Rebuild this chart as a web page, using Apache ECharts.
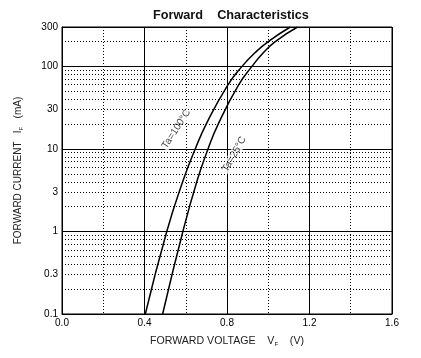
<!DOCTYPE html>
<html>
<head>
<meta charset="utf-8">
<script src="https://cdn.jsdelivr.net/npm/echarts@6/dist/echarts.min.js"></script>
<style>html,body{margin:0;padding:0;background:#fff;}#c{width:421px;height:358px;}</style>
</head>
<body>
<div id="c"></div>
<script>
// Forward voltage (V) vs forward current (mA)
const vf100 = [0.404, 0.508, 0.588, 0.646, 0.701, 0.803, 0.873, 0.937, 1.000, 1.107];
const if100 = [0.1, 1, 4.2, 10, 20.4, 59, 100, 147, 200, 300];
const vf25 = [0.488, 0.586, 0.656, 0.708, 0.759, 0.855, 0.921, 0.977, 1.034, 1.142];
const if25 = [0.1, 1, 4.2, 10, 20.4, 59, 100, 147, 200, 300];
const yLabelValues = [0.1, 0.3, 1, 3, 10, 30, 100, 300];
const yMinorGrid = [0.2,0.3,0.4,0.5,0.6,0.7,0.8,0.9, 2,3,4,5,6,7,8,9, 20,30,40,50,60,70,80,90, 200];
const xTicks = ['0.0','0.4','0.8','1.2','1.6'];
const curveLabels = [
  {name: 'Ta=100°C', v: 0.554, i: 17.4, rot: 57},
  {name: 'Ta=25°C', v: 0.835, i: 8.6, rot: 61}
];

const chart = echarts.init(document.getElementById('c'), null, {renderer: 'canvas'});
const font = 'Liberation Sans, Arial, sans-serif';
const dotted = {color: '#000', width: 1, type: [1, 2]};

chart.setOption({
  animation: false,
  backgroundColor: '#fff',
  title: {
    text: 'Forward    Characteristics',
    left: 148, top: 4,
    textStyle: {fontFamily: font, fontSize: 12.7, fontWeight: 'bold', color: '#111'}
  },
  grid: {left: 62, right: 29, top: 27, bottom: 44, show: true, borderColor: '#000', borderWidth: 1, backgroundColor: 'transparent'},
  xAxis: {
    type: 'value', min: 0, max: 1.6, interval: 0.4,
    axisLine: {lineStyle: {color: '#000', width: 1}},
    axisTick: {show: false},
    axisLabel: {color: '#000', fontSize: 10, fontFamily: font, margin: 4,
      formatter: v => xTicks[Math.round(v / 0.4)]},
    splitLine: {show: true, lineStyle: {color: '#000', width: 1}},
    minorTick: {show: false, splitNumber: 2},
    minorSplitLine: {show: true, lineStyle: dotted},
    name: '{a|FORWARD VOLTAGE    V}{s|F}{a|    (V)}',
    nameLocation: 'middle', nameGap: 21,
    nameTextStyle: {rich: {
      a: {fontFamily: font, fontSize: 10.6, color: '#222'},
      s: {fontFamily: font, fontSize: 6, color: '#222', padding: [6, 0, 0, 0]}
    }}
  },
  yAxis: {
    type: 'log', logBase: 10, min: 0.1, max: 300,
    axisLine: {lineStyle: {color: '#000', width: 1}},
    axisTick: {show: false},
    axisLabel: {color: '#000', fontSize: 10, fontFamily: font, margin: 4,
      customValues: yLabelValues,
      formatter: v => {
        let best = yLabelValues[0];
        yLabelValues.forEach(t => { if (Math.abs(Math.log10(t) - Math.log10(v)) < Math.abs(Math.log10(best) - Math.log10(v))) best = t; });
        return String(best);
      }},
    splitLine: {show: true, lineStyle: {color: '#000', width: 1}},
    name: '{a|FORWARD CURRENT   I}{s|F}{a|   (mA)}',
    nameLocation: 'middle', nameRotate: 90, nameGap: 38,
    nameTextStyle: {rich: {
      a: {fontFamily: font, fontSize: 10, color: '#222'},
      s: {fontFamily: font, fontSize: 6, color: '#222', padding: [6, 0, 0, 0]}
    }}
  },
  series: [
    {
      type: 'line', name: 'grid', data: [], silent: true, z: 1,
      markLine: {
        silent: true, symbol: 'none', animation: false,
        label: {show: false},
        lineStyle: dotted,
        emphasis: {disabled: true},
        data: yMinorGrid.map(v => ({yAxis: v}))
      }
    },
    {
      type: 'line', name: 'Ta=100°C', z: 3,
      data: vf100.map((v, k) => [v, if100[k]]),
      smooth: 0.5, showSymbol: false, symbol: 'none',
      lineStyle: {color: '#000', width: 1.5}
    },
    {
      type: 'line', name: 'Ta=25°C', z: 3,
      data: vf25.map((v, k) => [v, if25[k]]),
      smooth: 0.5, showSymbol: false, symbol: 'none',
      lineStyle: {color: '#000', width: 1.5}
    },
    {
      type: 'scatter', z: 4, symbolSize: 0, silent: true,
      data: curveLabels.map(c => ({value: [c.v, c.i], name: c.name,
        label: {show: true, position: 'inside', rotate: c.rot, formatter: c.name,
          fontFamily: font, fontSize: 10, color: '#111', backgroundColor: '#fff', padding: [0, 1]}}))
    }
  ]
});
</script>
</body>
</html>
